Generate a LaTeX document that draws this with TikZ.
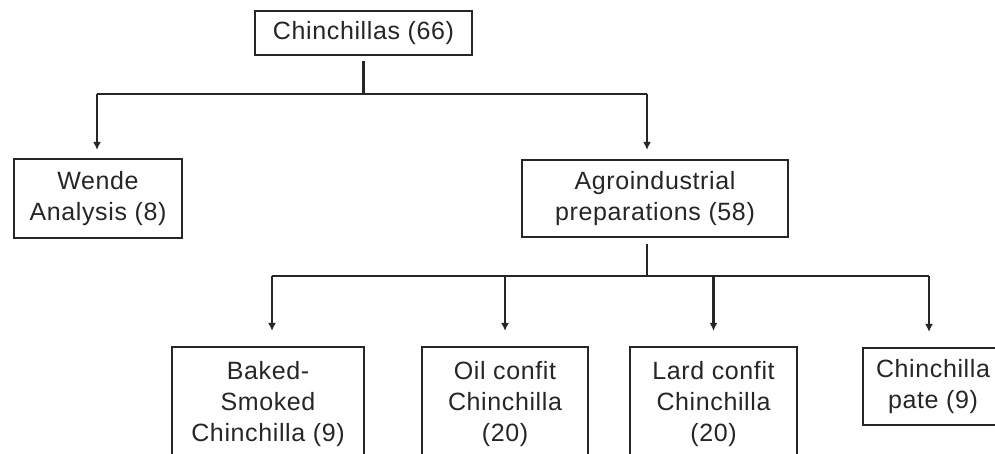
\documentclass[tikz,border=0pt]{standalone}
\usepackage{fontspec}
\setmainfont{Liberation Sans}[LetterSpace=2.5]
\usetikzlibrary{arrows.meta,calc}
\definecolor{ink}{HTML}{262626}
\begin{document}
\begin{tikzpicture}[x=1pt,y=-1pt,
  box/.style={draw=ink,line width=2.2pt,text=ink,align=center,inner sep=0pt,
    font=\fontsize{25}{31}\selectfont},
  conn/.style={draw=ink,line width=2.2pt},
  arr/.style={conn,-{Latex[length=8pt,width=8pt]}}]
\useasboundingbox (0,0) rectangle (995,453);
\clip (0,0) rectangle (995,453);
\fill[white] (0,0) rectangle (995,453);
% nodes
\node[box,minimum width=217pt,minimum height=44pt] (root) at (363.5,33) {Chinchillas (66)};
\node[box,minimum width=168pt,minimum height=79pt] (wende) at (98,198.5) {Wende\\Analysis (8)};
\node[box,minimum width=266pt,minimum height=77pt] (agro) at (655,198.5) {Agroindustrial\\preparations (58)};
\node[box,minimum width=192pt,minimum height=114pt] (baked) at (268,404) {Baked-\\Smoked\\Chinchilla (9)};
\node[box,minimum width=166pt,minimum height=114pt] (oil) at (505,404) {Oil confit\\Chinchilla\\(20)};
\node[box,minimum width=167pt,minimum height=114pt] (lard) at (713.5,404) {Lard confit\\Chinchilla\\(20)};
\node[box,minimum width=140pt,minimum height=77pt] (pate) at (933,386.5) {Chinchilla\\pate (9)};
% bus coordinates
\coordinate (b1) at (364,94);
\coordinate (b2) at (647,276);
% level 1
\draw[conn] ([yshift=-5pt]root.south) -- (root.south |- b1);
\draw[conn] ([xshift=-1pt]wende.north |- b1) -- ([xshift=-8pt]agro.north |- b1);
\draw[arr] ([xshift=-1pt]wende.north |- b1) -- ([xshift=-1pt,yshift=8pt]wende.north);
\draw[arr] ([xshift=-8pt]agro.north |- b1) -- ([xshift=-8pt,yshift=9pt]agro.north);
% level 2
\draw[conn] ([xshift=-8pt,yshift=-6pt]agro.south) -- ([xshift=-8pt]agro.south |- b2);
\draw[conn] ([xshift=4pt]baked.north |- b2) -- ([xshift=-4pt]pate.north |- b2);
\draw[arr] ([xshift=4pt]baked.north |- b2) -- ([xshift=4pt,yshift=15pt]baked.north);
\draw[arr] (oil.north |- b2) -- ([yshift=15pt]oil.north);
\draw[arr] (lard.north |- b2) -- ([yshift=15pt]lard.north);
\draw[arr] ([xshift=-4pt]pate.north |- b2) -- ([xshift=-4pt,yshift=15pt]pate.north);
\end{tikzpicture}
\end{document}
